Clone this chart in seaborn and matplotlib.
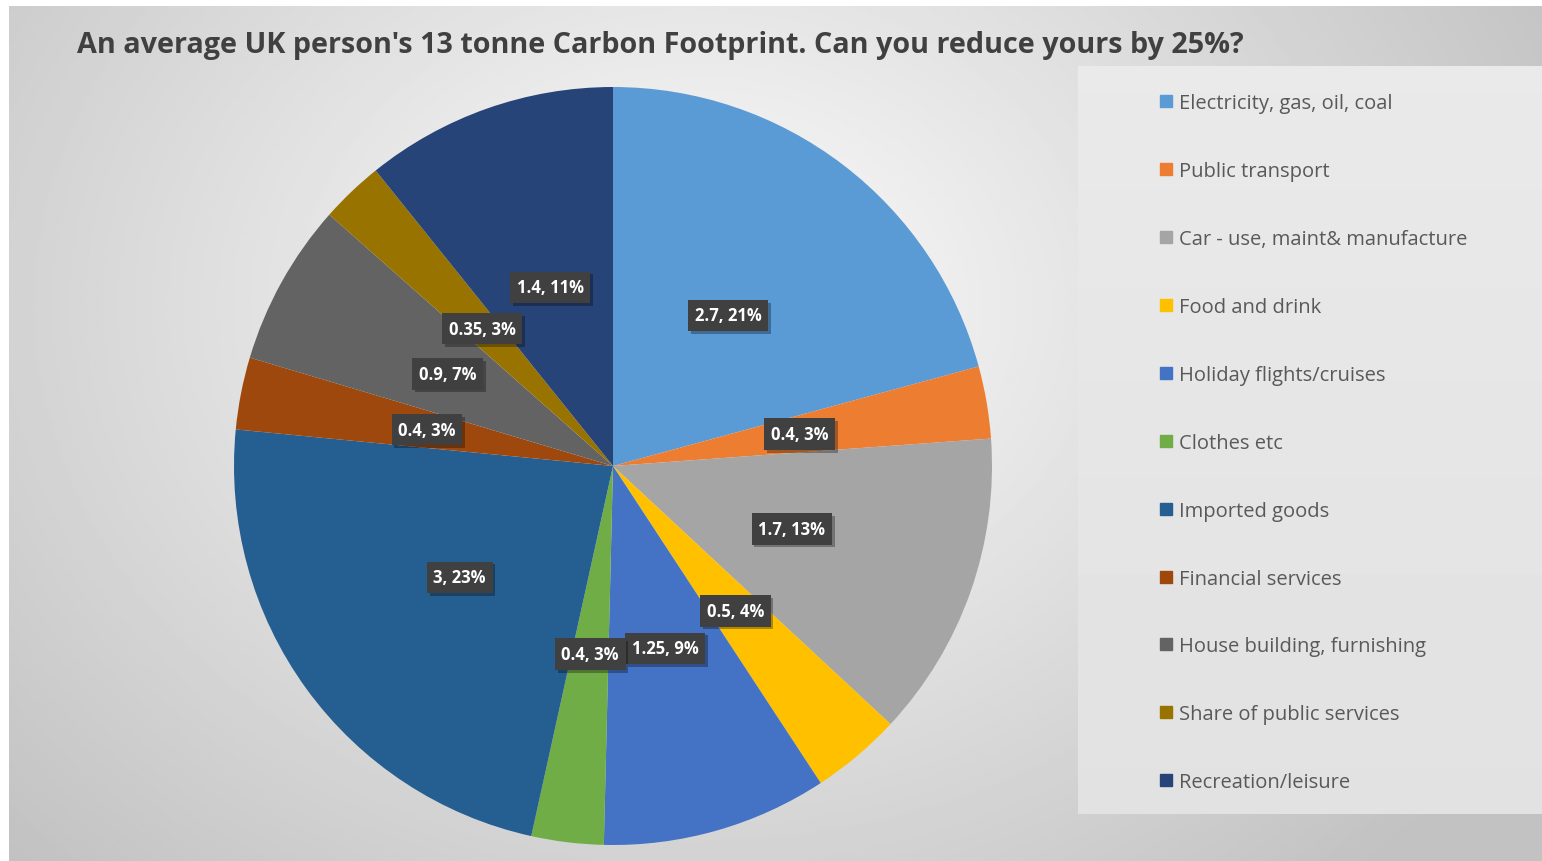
import numpy as np
import matplotlib
matplotlib.use("Agg")
import matplotlib.pyplot as plt
import matplotlib.patheffects as pe
from matplotlib.lines import Line2D
import seaborn as sns

categories = [
    "Electricity, gas, oil, coal",
    "Public transport",
    "Car - use, maint& manufacture",
    "Food and drink",
    "Holiday flights/cruises",
    "Clothes etc",
    "Imported goods",
    "Financial services",
    "House building, furnishing",
    "Share of public services",
    "Recreation/leisure",
]
tonnes = [2.7, 0.4, 1.7, 0.5, 1.25, 0.4, 3, 0.4, 0.9, 0.35, 1.4]
percent_labels = ["21%", "3%", "13%", "4%", "9%", "3%", "23%", "3%", "7%", "3%", "11%"]
slice_colors = ["#5B9BD5", "#ED7D31", "#A5A5A5", "#FFC000", "#4472C4", "#70AD47",
                "#255E91", "#9E480E", "#636363", "#997300", "#264478"]

title = "An average UK person's 13 tonne Carbon Footprint. Can you reduce yours by 25%?"

sns.set_style("white")
plt.rcParams["font.family"] = ["Open Sans", "DejaVu Sans"]
palette = sns.color_palette(slice_colors)

W, H = 1542, 862
fig = plt.figure(figsize=(W / 100, H / 100), dpi=100, facecolor="white")

# chart area background: soft radial gradient
bg = fig.add_axes([9 / W, 0, (W - 9) / W, (H - 7) / H])
yy, xx = np.mgrid[0:1:300j, 0:1:500j]
dist = np.sqrt(((xx - 0.45) * 1.3) ** 2 + ((yy - 0.35) * 0.9) ** 2)
shade = np.clip(0.99 - 0.28 * dist, 0.76, 0.99)
bg.imshow(shade, cmap="gray", vmin=0, vmax=1, aspect="auto",
          extent=[0, 1, 1, 0], interpolation="bilinear")
bg.set_xlim(0, 1)
bg.set_ylim(1, 0)
bg.axis("off")

# legend panel
leg_ax = fig.add_axes([1078 / W, (H - 815) / H, (W - 1078) / W, (815 - 67) / H])
lg = np.linspace(0.915, 0.885, 200).reshape(-1, 1) * np.ones((1, 50))
leg_ax.imshow(lg, cmap="gray", vmin=0, vmax=1, aspect="auto", extent=[0, 1, 0, 1])
leg_ax.set_xlim(0, 1)
leg_ax.set_ylim(0, 1)
leg_ax.axis("off")

# pie
cx, cy, r = 613, 467, 379
ax = fig.add_axes([(cx - r) / W, (H - cy - r) / H, 2 * r / W, 2 * r / H])
labels = [f"{v:g}, {p}" for v, p in zip(tonnes, percent_labels)]
wedges, texts = ax.pie(tonnes, colors=palette, startangle=90, counterclock=False,
                       labels=labels, labeldistance=0.5, radius=1,
                       wedgeprops=dict(linewidth=0))
for t in texts:
    t.set_ha("center")
    t.set_va("center")
    t.set_color("white")
    t.set_fontsize(12)
    t.set_fontweight("bold")
    t.set_bbox(dict(boxstyle="square,pad=0.4", facecolor="#404040", edgecolor="none"))
    t.get_bbox_patch().set_path_effects([
        pe.SimplePatchShadow(offset=(2, -2), shadow_rgbFace="black", alpha=0.3),
        pe.Normal()])
ax.set_xlim(-1, 1)
ax.set_ylim(-1, 1)
ax.set_aspect("equal")
ax.axis("off")

# legend entries
handles = [Line2D([0], [0], marker="s", linestyle="none", markersize=8,
                  markerfacecolor=c, markeredgecolor=c) for c in slice_colors]
leg = fig.legend(handles, categories, loc="upper left",
                 bbox_to_anchor=(1152 / W, (H - 86) / H), frameon=False,
                 fontsize=14.5, labelspacing=2.38, handlelength=0.6,
                 handletextpad=0.35, borderaxespad=0)
for txt in leg.get_texts():
    txt.set_color("#595959")

fig.text(77 / W, (H - 46) / H, title, fontsize=20.7, fontweight="bold",
         color="#404040", va="center", ha="left")

fig.savefig("out.png", dpi=100, facecolor="white")
